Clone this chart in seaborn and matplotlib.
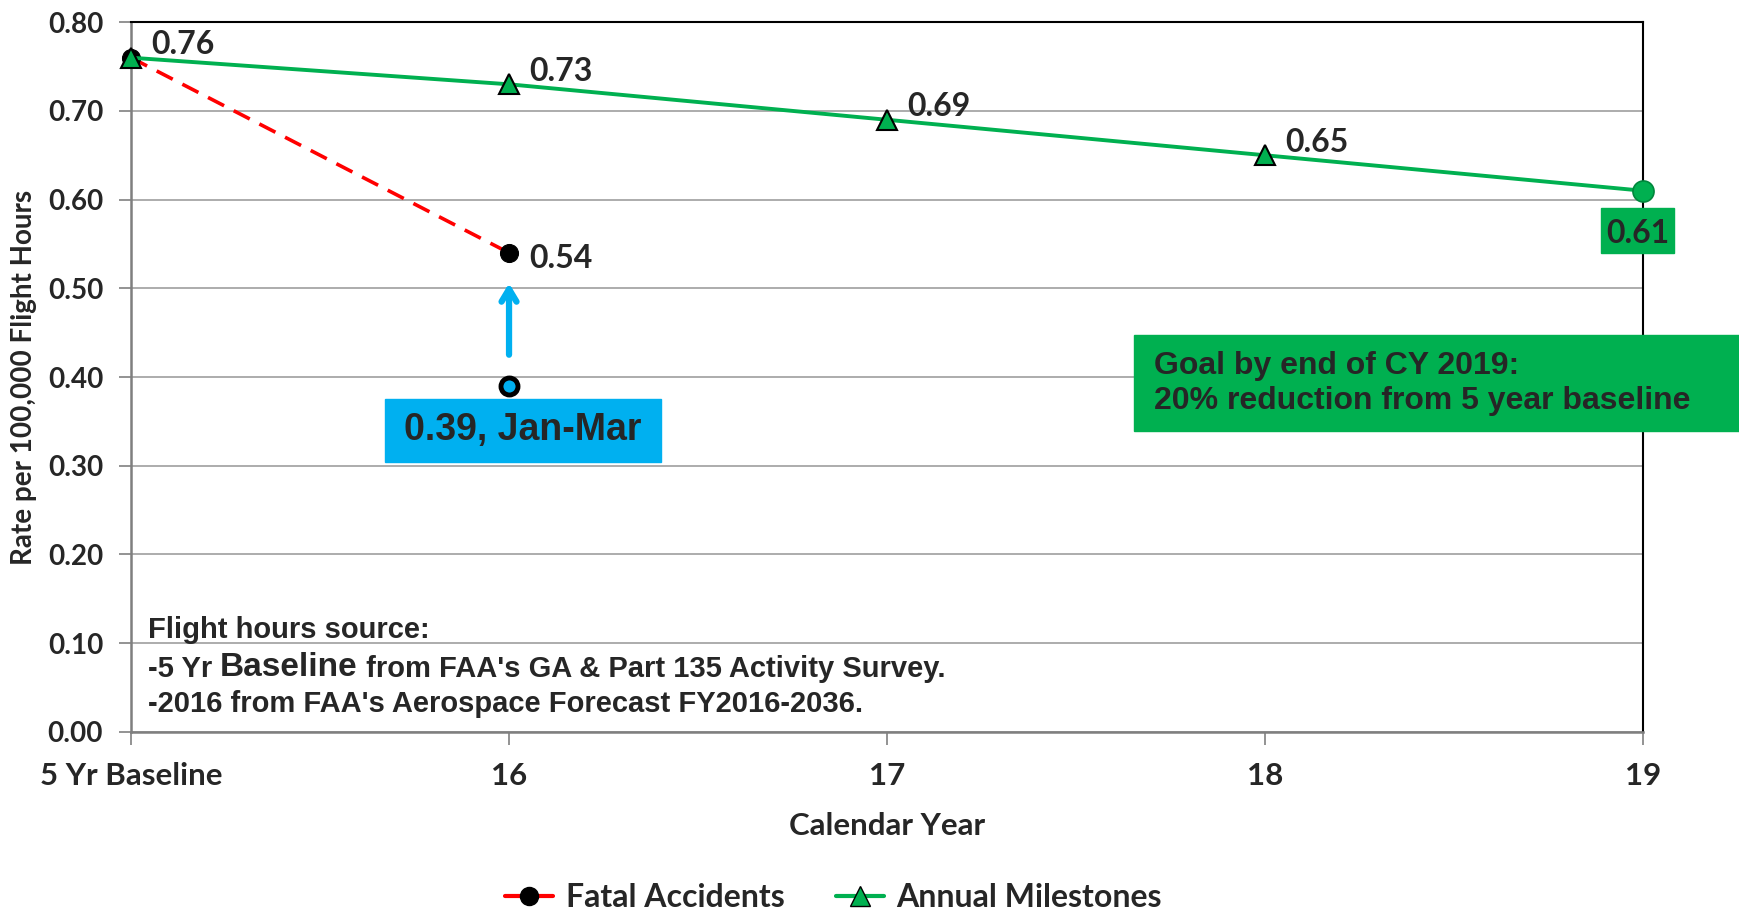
import matplotlib
matplotlib.use("Agg")
import matplotlib.pyplot as plt
import matplotlib.patches as mpatches
from matplotlib.lines import Line2D
import numpy as np
import seaborn as sns

# Chart data
categories = ["5 Yr Baseline", "16", "17", "18", "19"]
milestone_rates = [0.76, 0.73, 0.69, 0.65, 0.61]
fatal_rates = [0.76, 0.54]
partial_rate = 0.39
partial_label = "0.39, Jan-Mar"
goal_text = "Goal by end of CY 2019:\n20% reduction from 5 year baseline"
source_title = "Flight hours source:"
source_line2 = ["-5 Yr ", "Baseline", " from FAA's GA & Part 135 Activity Survey."]
source_line3 = "-2016 from FAA's Aerospace Forecast FY2016-2036."

GREEN = "#00b050"
RED = "#ff0000"
BLUE = "#00b0f0"
CAL = ["Lato", "DejaVu Sans"]
ARIAL = ["Liberation Sans", "DejaVu Sans"]

sns.set_theme(style="white")
plt.rcParams["font.family"] = CAL
plt.rcParams["font.weight"] = "bold"

fig = plt.figure(figsize=(17.4, 9.14), dpi=100)
ax = fig.add_axes([0.0753, 0.1993, 0.869, 0.7764])

x_all = np.arange(len(categories))
x_fatal = x_all[:len(fatal_rates)]

# Fatal accidents (red dashed)
sns.lineplot(x=x_fatal, y=fatal_rates, ax=ax, color=RED, linestyle=(0, (5, 3)),
             lw=2.6, marker="o", markersize=13, markerfacecolor="black",
             markeredgecolor="black", zorder=3, legend=False, clip_on=False)

# Annual milestones (green)
sns.lineplot(x=x_all, y=milestone_rates, ax=ax, color=GREEN, lw=2.8,
             marker="^", markersize=14, markerfacecolor=GREEN,
             markeredgecolor="black", markeredgewidth=1.5,
             markevery=list(range(len(categories) - 1)), zorder=4,
             legend=False, clip_on=False)
sns.scatterplot(x=x_all[-1:], y=milestone_rates[-1:], ax=ax, s=230, color=GREEN,
                edgecolor="#00873c", linewidth=1.2, zorder=5, legend=False,
                clip_on=False)

# Jan-Mar partial point
sns.scatterplot(x=[x_fatal[-1]], y=[partial_rate], ax=ax, s=150, color=BLUE,
                edgecolor="black", linewidth=3.5, zorder=5, legend=False)

# Data labels
for xi, v in zip(x_all[:-1], milestone_rates[:-1]):
    ax.annotate(f"{v:.2f}", (xi, v), xytext=(20, 13), textcoords="offset pixels",
                fontsize=23, fontweight="bold", va="center", ha="left")
ax.annotate(f"{fatal_rates[-1]:.2f}", (x_fatal[-1], fatal_rates[-1]), xytext=(20, -6),
            textcoords="offset pixels", fontsize=23, fontweight="bold",
            va="center", ha="left")

# 0.61 boxed label
ax.add_patch(mpatches.Rectangle((3.888, 0.5396), 0.194, 0.0514, color=GREEN,
                                clip_on=False, zorder=6))
ax.text(3.985, 0.562, f"{milestone_rates[-1]:.2f}", ha="center", va="center",
        fontsize=23, fontweight="bold", zorder=7)

# Arrow from partial point to the fatal point
ax.annotate("", xy=(x_fatal[-1], 0.509), xytext=(x_fatal[-1], 0.422),
            arrowprops=dict(arrowstyle="->,head_length=0.75,head_width=0.45",
                            color=BLUE, lw=4.5))

# Blue label box
ax.add_patch(mpatches.Rectangle((0.672, 0.304), 0.731, 0.0716, color=BLUE,
                                clip_on=False, zorder=6))
ax.text(1.037, 0.340, partial_label, ha="center", va="center", fontsize=27,
        fontweight="bold", family=ARIAL, zorder=7)

# Goal box
ax.add_patch(mpatches.Rectangle((2.653, 0.339), 1.7, 0.108, color=GREEN,
                                clip_on=False, zorder=6))
ax.text(2.706, 0.393, goal_text, ha="left", va="center", fontsize=23,
        fontweight="bold", family=ARIAL, linespacing=1.2, zorder=7)

# Source note
ax.text(0.044, 0.1152, source_title, ha="left", va="center", fontsize=21,
        fontweight="bold", family=ARIAL, zorder=7)
prev = ax.text(0.044, 0.0714, source_line2[0], ha="left", va="center", fontsize=21,
               fontweight="bold", family=ARIAL, zorder=7)
for piece, size in zip(source_line2[1:], [24, 21]):
    prev = ax.annotate(piece, xy=(1, 0), xycoords=prev, ha="left", va="bottom",
                       fontsize=size, fontweight="bold", family=ARIAL, zorder=7)
ax.text(0.044, 0.0313, source_line3, ha="left", va="center", fontsize=21,
        fontweight="bold", family=ARIAL, zorder=7)

# Axes formatting
ax.set_xlim(0, len(categories) - 1)
ax.set_ylim(0, 0.8)
ax.set_xticks(x_all)
ax.set_xticklabels(categories)
ax.set_yticks(np.arange(0, 0.81, 0.1))
ax.set_yticklabels([f"{t:.2f}" for t in np.arange(0, 0.81, 0.1)])
ax.tick_params(axis="x", labelsize=22.5, length=9, width=1.2, color="#808080",
               direction="out", pad=13, bottom=True)
ax.tick_params(axis="y", labelsize=20, length=9, width=1.2, color="#808080",
               direction="out", pad=11, left=True)
for lbl in ax.get_xticklabels() + ax.get_yticklabels():
    lbl.set_fontweight("bold")
ax.grid(axis="y", color="#a6a6a6", lw=1.3)
ax.set_axisbelow(True)
for side in ["left", "bottom"]:
    ax.spines[side].set_color("#7f7f7f")
    ax.spines[side].set_linewidth(1.8)
for side in ["top", "right"]:
    ax.spines[side].set_color("black")
    ax.spines[side].set_linewidth(1.5)

ax.set_xlabel("Calendar Year", fontsize=22.5, fontweight="bold")
ax.xaxis.set_label_coords(0.5, -0.113)
ax.set_ylabel("Rate per 100,000 Flight Hours", fontsize=20, fontweight="bold")
ax.yaxis.set_label_coords(-0.062, 0.5)

# Legend
handles = [
    Line2D([], [], color=RED, lw=3, marker="o", markersize=13,
           markerfacecolor="black", markeredgecolor="black"),
    Line2D([], [], color=GREEN, lw=3, marker="^", markersize=14,
           markerfacecolor=GREEN, markeredgecolor="black"),
]
fig.legend(handles, ["Fatal Accidents", "Annual Milestones"], loc="center",
           bbox_to_anchor=(0.479, 0.018), ncol=2, frameon=False,
           prop=dict(family=CAL, size=23, weight="bold"), handlelength=1.5,
           handletextpad=0.4, columnspacing=1.6)

plt.savefig("out.png", dpi=100)
